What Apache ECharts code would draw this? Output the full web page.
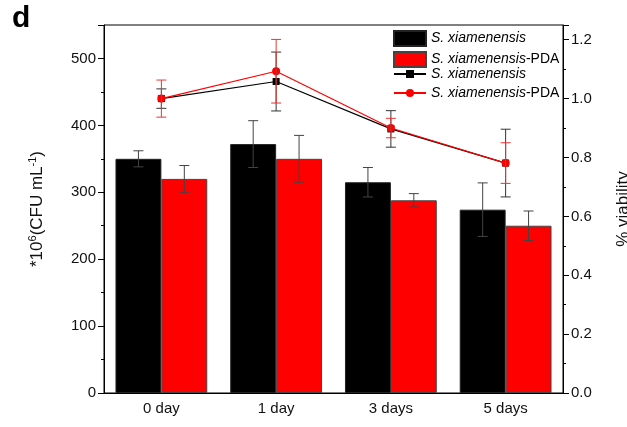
<!DOCTYPE html>
<html>
<head>
<meta charset="utf-8">
<script src="https://cdn.jsdelivr.net/npm/echarts@6/dist/echarts.min.js"></script>
<style>html,body{margin:0;padding:0;background:#fff}</style>
</head>
<body>
<div id="chart" style="width:627px;height:427px;"></div>
<script>
// data
var categories = ['0 day', '1 day', '3 days', '5 days'];
var cfuPlain = [350, 372, 315, 274];
var cfuPlainErr = [12, 35, 22, 40];
var cfuPda = [320, 350, 288, 250];
var cfuPdaErr = [20, 35, 10, 22];
var viaPlain = [1.0, 1.058, 0.897, 0.781];
var viaPlainErr = [0.033, 0.10, 0.062, 0.115];
var viaPda = [1.0, 1.093, 0.90, 0.781];
var viaPdaErr = [0.063, 0.108, 0.033, 0.069];

var legendText = {
  barPlain: '{i|S. xiamenensis}',
  barPda: '{i|S. xiamenensis}{n|-PDA}',
  linePlain: '{i|S. xiamenensis}',
  linePda: '{i|S. xiamenensis}{n|-PDA}'
};

function errData(vals, errs) {
  return categories.map(function (c, i) { return [i, vals[i], errs[i]]; });
}

// offset: -1 left bar, 1 right bar, 0 centre (line points)
function errRender(offset, color) {
  return function (params, api) {
    var i = api.value(0), v = api.value(1), e = api.value(2);
    var hi = api.coord([i, v + e]);
    var lo = api.coord([i, v - e]);
    var band = api.size([1, 0])[0];
    var cx = hi[0] + offset * band * 0.8 / 4;
    var w = 5;
    var st = { stroke: color, lineWidth: 1 };
    return {
      type: 'group',
      children: [
        { type: 'line', shape: { x1: cx, y1: hi[1], x2: cx, y2: lo[1] }, style: st },
        { type: 'line', shape: { x1: cx - w, y1: hi[1], x2: cx + w, y2: hi[1] }, style: st },
        { type: 'line', shape: { x1: cx - w, y1: lo[1], x2: cx + w, y2: lo[1] }, style: st }
      ]
    };
  };
}

var font = 'Liberation Sans, Arial, sans-serif';
var axisLine = { show: true, lineStyle: { color: '#000', width: 1 } };
var legendTextStyle = {
  color: '#000',
  rich: {
    i: { fontStyle: 'italic', fontSize: 14, fontFamily: font, color: '#000' },
    n: { fontSize: 14, fontFamily: font, color: '#000' }
  }
};

var chart = echarts.init(document.getElementById('chart'));
chart.setOption({
  animation: false,
  textStyle: { fontFamily: font },
  graphic: [{
    type: 'text', left: 12, top: 4,
    style: { text: 'd', font: 'bold 30px ' + font, fill: '#000' }
  }],
  grid: { left: 104, right: 64, top: 25, bottom: 34, show: true, borderColor: '#000', borderWidth: 1,
    containLabel: false, outerBoundsMode: 'none' },
  legend: [{
    left: 393, top: 30, orient: 'vertical', padding: 0,
    itemWidth: 32, itemHeight: 15, itemGap: 4, icon: 'rect',
    data: ['barPlain', 'barPda'],
    formatter: function (n) { return legendText[n]; },
    textStyle: legendTextStyle
  }, {
    left: 393, top: 67, orient: 'vertical', padding: 0,
    itemWidth: 32, itemHeight: 10, itemGap: 5,
    data: ['linePlain', 'linePda'],
    formatter: function (n) { return legendText[n]; },
    textStyle: legendTextStyle
  }],
  xAxis: {
    type: 'category', data: categories,
    axisLine: axisLine,
    axisTick: { alignWithLabel: true, length: 5, lineStyle: { color: '#000' } },
    axisLabel: { fontSize: 15, color: '#111', margin: 8 }
  },
  yAxis: [{
    type: 'value', min: 0, max: 550, interval: 100,
    name: '*10{s|6}(CFU mL{s|-1})', nameLocation: 'middle', nameGap: 57, nameRotate: 90,
    nameTextStyle: { fontSize: 17, color: '#111', rich: { s: { fontSize: 11, verticalAlign: 'top', padding: [0, 0, 9, 0] } } },
    axisLine: axisLine,
    axisTick: { show: true, length: 6, lineStyle: { color: '#000' } },
    minorTick: { show: true, splitNumber: 2, length: 3, lineStyle: { color: '#000' } },
    axisLabel: { fontSize: 15, color: '#111', margin: 8, showMaxLabel: false },
    splitLine: { show: false }
  }, {
    type: 'value', min: 0, max: 1.25, interval: 0.2, position: 'right',
    name: '% viability', nameLocation: 'middle', nameGap: 52, nameRotate: 90,
    nameTextStyle: { fontSize: 17, color: '#111' },
    axisLine: axisLine,
    axisTick: { show: true, length: 6, lineStyle: { color: '#000' } },
    minorTick: { show: true, splitNumber: 2, length: 3, lineStyle: { color: '#000' } },
    axisLabel: { fontSize: 15, color: '#111', margin: 8, showMaxLabel: false,
      formatter: function (v) { return v.toFixed(1); } },
    splitLine: { show: false }
  }],
  series: [
    { name: 'barPlain', type: 'bar', data: cfuPlain, barGap: '0%', barCategoryGap: '20%',
      itemStyle: { color: '#000', borderColor: '#222', borderWidth: 1 } },
    { name: 'barPda', type: 'bar', data: cfuPda, barGap: '0%', barCategoryGap: '20%',
      itemStyle: { color: '#ff0000', borderColor: '#444', borderWidth: 1 } },
    { name: 'errPlain', type: 'custom', data: errData(cfuPlain, cfuPlainErr), renderItem: errRender(-1, '#444'), z: 3 },
    { name: 'errPda', type: 'custom', data: errData(cfuPda, cfuPdaErr), renderItem: errRender(1, '#444'), z: 3 },
    { name: 'linePlain', type: 'line', yAxisIndex: 1, data: viaPlain,
      symbol: 'rect', symbolSize: 7, lineStyle: { color: '#000', width: 1.2 }, itemStyle: { color: '#000' }, z: 4 },
    { name: 'linePda', type: 'line', yAxisIndex: 1, data: viaPda,
      symbol: 'circle', symbolSize: 8, lineStyle: { color: '#ff0000', width: 1.2 }, itemStyle: { color: '#ff0000' }, z: 5 },
    { name: 'errLinePlain', type: 'custom', yAxisIndex: 1, data: errData(viaPlain, viaPlainErr), renderItem: errRender(0, '#333'), z: 6 },
    { name: 'errLinePda', type: 'custom', yAxisIndex: 1, data: errData(viaPda, viaPdaErr), renderItem: errRender(0, '#ee3333'), z: 6 }
  ]
});
</script>
</body>
</html>
